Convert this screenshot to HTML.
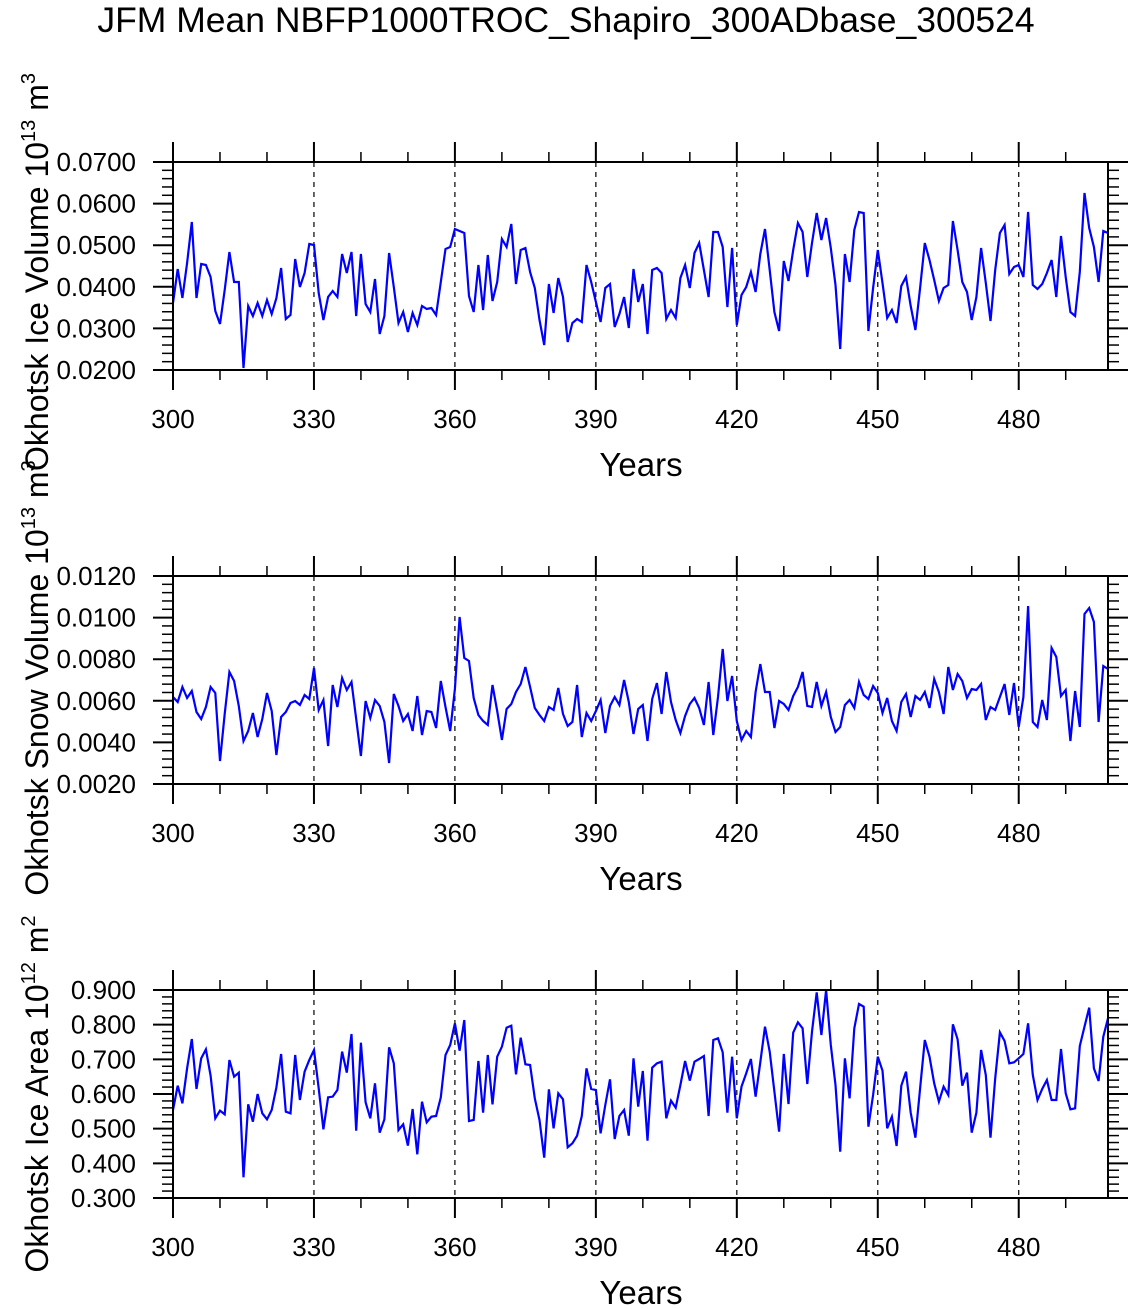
<!DOCTYPE html>
<html><head><meta charset="utf-8"><style>
html,body{margin:0;padding:0;background:#fff;}
svg{display:block;font-family:"Liberation Sans",Arial,sans-serif;}
</style></head><body>
<svg id="s" xmlns="http://www.w3.org/2000/svg" width="1134" height="1309" viewBox="0 0 1134 1309">
<rect width="1134" height="1309" fill="#fff"/>
<text x="566" y="32" font-size="35.5" text-anchor="middle">JFM Mean NBFP1000TROC_Shapiro_300ADbase_300524</text>
</svg>
<script>
var NS="http://www.w3.org/2000/svg",S=document.getElementById('s');
function el(t,a,txt){var e=document.createElementNS(NS,t);for(var k in a)e.setAttribute(k,a[k]);if(txt!=null)e.textContent=txt;S.appendChild(e);return e;}
var p1=[303,269,298,263,222,298,264,265,277,311,324,290,252,282,282,368,306,316,303,316,300,314,298,268,319,315,259,287,273,244,245,293,320,297,291,297,254,273,252,316,254,304,312,279,334,316,253,287,323,312,332,313,325,306,309,308,315,282,249,247,229,231,233,296,312,265,310,255,301,282,239,247,224,284,250,248,272,288,320,345,284,313,278,297,342,323,319,322,265,282,302,322,288,284,327,314,297,328,269,302,
284,334,270,268,273,319,310,318,278,265,288,253,243,270,297,232,232,247,307,248,325,295,287,272,292,254,229,270,312,331,261,281,250,223,232,277,243,213,240,218,248,285,349,254,282,230,212,213,331,288,250,283,318,310,323,286,277,306,330,288,243,260,280,301,288,285,221,250,282,292,320,297,248,283,321,270,233,225,274,267,265,277,212,285,289,284,273,260,297,236,277,312,316,272,193,228,247,282,231,233];
var p2=[697,702,687,698,691,712,719,707,687,693,761,714,672,681,706,741,731,713,737,719,693,711,755,717,712,703,701,705,695,699,668,710,700,746,685,707,678,690,682,719,756,701,718,700,706,722,763,694,706,721,714,731,696,735,711,712,728,681,707,731,689,617,658,661,698,715,721,725,685,711,740,709,704,692,684,667,687,708,715,721,707,710,688,714,726,722,685,737,713,721,711,700,733,706,697,705,680,702,734,709,
705,741,699,683,714,672,702,720,733,716,704,698,708,725,682,735,697,649,701,676,721,740,731,737,692,664,692,692,728,701,704,710,696,687,672,706,707,682,706,692,717,732,727,705,700,708,682,695,699,686,693,713,698,721,731,702,694,717,696,700,692,708,679,692,714,667,690,674,681,698,689,690,684,720,707,710,697,684,715,683,727,697,606,722,727,700,720,648,657,696,690,741,691,727,614,608,622,722,666,669];
var z3=[375,302,355,250,162,312,220,193,272,400,377,388,225,275,263,577,358,410,327,385,403,375,307,207,380,385,210,345,260,225,195,310,433,337,335,315,200,263,147,437,173,352,400,295,443,403,187,235,435,418,482,372,508,350,412,395,393,337,210,180,115,197,105,408,405,228,383,210,358,215,185,128,122,268,158,238,240,340,405,518,313,430,325,343,487,475,452,393,250,312,315,445,360,283,462,393,375,452,220,365,
258,467,248,235,230,400,347,368,300,228,287,230,222,213,393,165,160,202,383,215,400,305,265,222,335,232,125,200,320,440,207,357,143,112,130,297,140,22,150,15,180,300,500,220,340,130,57,65,425,330,215,257,430,395,483,302,260,383,458,310,165,215,295,350,305,330,118,163,302,263,443,383,195,270,458,280,142,168,235,232,220,207,115,270,345,312,285,345,345,192,325,373,370,183,125,68,250,288,155,100];
var p3=z3.map(function(v){return 985+v/3;});
var X0=173,X1=1108,dx=(X1-X0)/199;
function panel(top,bot,labels,data,ylab,sup,unit,usup,lc){
  [330,360,390,420,450,480].forEach(function(y){var x=X0+(y-300)*dx;el('line',{x1:x,y1:top,x2:x,y2:bot,stroke:"#000","stroke-width":1.2,"stroke-dasharray":"5,5"});});
  var pts=data.map(function(v,i){return (X0+i*dx).toFixed(1)+","+v;}).join(" ");
  el('polyline',{points:pts,fill:"none",stroke:"#0000ff","stroke-width":2.2,"stroke-linejoin":"miter"});
  el('rect',{x:X0,y:top,width:X1-X0,height:bot-top,stroke:"#000","stroke-width":2,fill:"none"});
  var n=labels.length-1,h=(bot-top)/n;
  for(var i=0;i<=n;i++){var y=bot-i*h;
    el('line',{x1:X0-20,y1:y,x2:X0,y2:y,stroke:"#000","stroke-width":2});
    el('line',{x1:X1,y1:y,x2:X1+20,y2:y,stroke:"#000","stroke-width":2});
    el('text',{x:136,y:y+9,"font-size":26,"text-anchor":"end"},labels[i]);
    if(i<n)for(var j=1;j<5;j++){var yy=y-j*h/5;
      el('line',{x1:X0-11,y1:yy,x2:X0,y2:yy,stroke:"#000","stroke-width":1.5});
      el('line',{x1:X1,y1:yy,x2:X1+11,y2:yy,stroke:"#000","stroke-width":1.5});}
  }
  for(var yr=300;yr<=490;yr+=10){var x=X0+(yr-300)*dx,maj=(yr%30==0),L=maj?20:10,w=maj?2:1.5;
    el('line',{x1:x,y1:bot,x2:x,y2:bot+L,stroke:"#000","stroke-width":w});
    el('line',{x1:x,y1:top-L,x2:x,y2:top,stroke:"#000","stroke-width":w});
    if(maj)el('text',{x:x,y:bot+58,"font-size":26,"text-anchor":"middle"},String(yr));}
  el('text',{x:641,y:bot+106,"font-size":33,"text-anchor":"middle"},"Years");
  var t=el('text',{x:0,y:0,"font-size":32,"text-anchor":"middle",transform:"translate(48,"+lc+") rotate(-90)"});
  t.appendChild(document.createTextNode(ylab+" 10"));
  var s1=document.createElementNS(NS,'tspan');s1.setAttribute('dy','-13');s1.setAttribute('font-size','20');s1.textContent=sup;t.appendChild(s1);
  var s2=document.createElementNS(NS,'tspan');s2.setAttribute('dy','13');s2.textContent=" m";t.appendChild(s2);
  var s3=document.createElementNS(NS,'tspan');s3.setAttribute('dy','-13');s3.setAttribute('font-size','20');s3.textContent=usup;t.appendChild(s3);
}
panel(162,370,["0.0200","0.0300","0.0400","0.0500","0.0600","0.0700"],p1,"Okhotsk Ice Volume","13","m","3",272);
panel(576,784,["0.0020","0.0040","0.0060","0.0080","0.0100","0.0120"],p2,"Okhotsk Snow Volume","13","m","3",678);
panel(990,1198,["0.300","0.400","0.500","0.600","0.700","0.800","0.900"],p3,"Okhotsk Ice Area","12","m","2",1094);
</script>
</body></html>
